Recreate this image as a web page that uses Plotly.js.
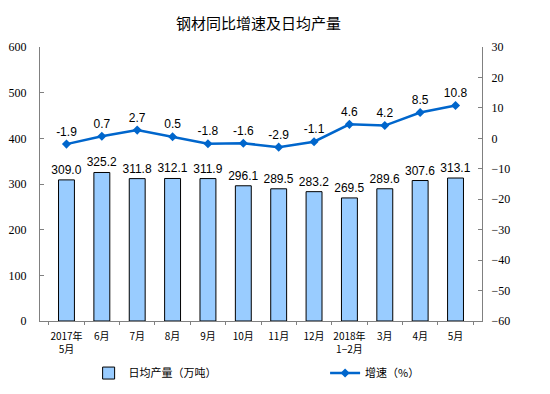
<!DOCTYPE html>
<html><head><meta charset="utf-8">
<script src="https://cdn.plot.ly/plotly-3.0.1.min.js"></script>
<style>body{margin:0;background:#fff}#c{width:550px;height:394px}</style>
</head><body><div id="c"></div>
<script>
const categories = ["2017年<br>5月","6月","7月","8月","9月","10月","11月","12月","2018年<br>1−2月","3月","4月","5月"];
const dailyOutput = [309.0,325.2,311.8,312.1,311.9,296.1,289.5,283.2,269.5,289.6,307.6,313.1];
const growth = [-1.9,0.7,2.7,0.5,-1.8,-1.6,-2.9,-1.1,4.6,4.2,8.5,10.8];
const leftTicks = [0,100,200,300,400,500,600];
const rightTicks = [-60,-50,-40,-30,-20,-10,0,10,20,30];

const cjk = '"Noto Sans CJK SC", "Liberation Sans", sans-serif';
const num = '"Liberation Sans", Arial, sans-serif';

const traces = [
 {type:'bar', x:categories, y:dailyOutput, name:'日均产量（万吨）', legend:'legend',
  marker:{color:'#99CCFF', line:{color:'#000', width:1}}, width:0.45,
  text:dailyOutput.map(v=>v.toFixed(1)), textposition:'outside', cliponaxis:false, constraintext:'none',
  textfont:{family:num, size:12, color:'#000'}, hoverinfo:'y'},
 {type:'scatter', mode:'lines+markers+text', x:categories, y:growth, yaxis:'y2', name:'增速（%）', legend:'legend2',
  line:{color:'#0066CC', width:2.5}, marker:{symbol:'diamond', size:7, color:'#0066CC'},
  text:growth.map(v=>v.toFixed(1)), textposition:'top center', cliponaxis:false,
  textfont:{family:num, size:12, color:'#000'}}
];

const layout = {
 width:550, height:394, margin:{l:40, r:68, t:47, b:73, autoexpand:false},
 paper_bgcolor:'#fff', plot_bgcolor:'#fff',
 title:{text:'钢材同比增速及日均产量', font:{family:cjk, size:15, color:'#000'}, x:0.47, xanchor:'center', y:0.94, yanchor:'middle', automargin:false},
 showlegend:true,
 legend:{orientation:'h', x:0.11, xanchor:'left', y:-0.19, yanchor:'middle',
   font:{family:cjk, size:11, color:'#000'}, bgcolor:'rgba(0,0,0,0)'},
 legend2:{orientation:'h', x:0.645, xanchor:'left', y:-0.19, yanchor:'middle',
   font:{family:cjk, size:11, color:'#000'}, bgcolor:'rgba(0,0,0,0)'},
 bargap:0.5,
 xaxis:{type:'category', automargin:false, tickangle:0, showline:true, linecolor:'#808080', linewidth:1, ticks:'outside', ticklen:3, tickcolor:'#808080',
   tickson:'boundaries', ticklabelstandoff:6, tickfont:{family:cjk, size:10, color:'#000'}, showgrid:false, zeroline:false, mirror:false},
 yaxis:{range:[0,600], automargin:false, tickvals:leftTicks, showline:true, linecolor:'#808080', ticks:'inside', ticklen:4, tickcolor:'#808080',
   ticklabelstandoff:10, tickfont:{family:'"Liberation Serif", serif', size:12, color:'#000'}, showgrid:false, zeroline:false},
 yaxis2:{range:[-60,30], automargin:false, tickvals:rightTicks, overlaying:'y', side:'right', showline:true, linecolor:'#808080', ticks:'inside', ticklen:4,
   ticklabelstandoff:6, tickcolor:'#808080', tickfont:{family:'"Liberation Serif", serif', size:12, color:'#000'}, showgrid:false, zeroline:false}
};
Plotly.newPlot('c', traces, layout, {displayModeBar:false, staticPlot:true});
</script></body></html>
